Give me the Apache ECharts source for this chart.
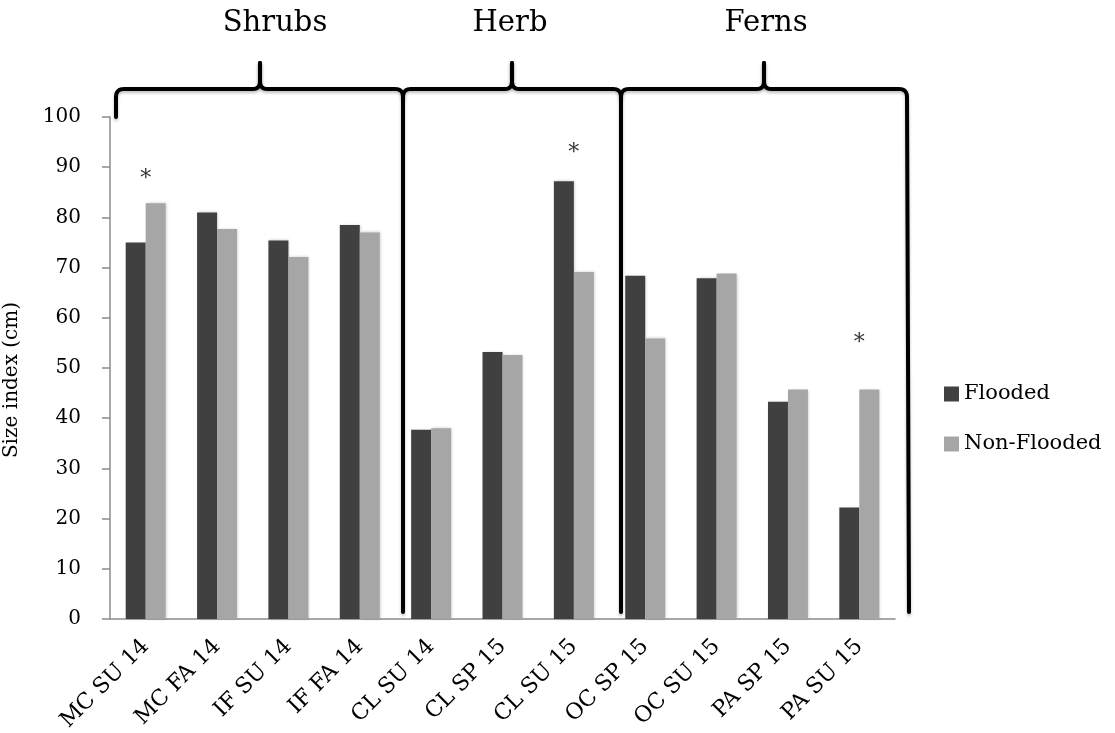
<!DOCTYPE html>
<html>
<head>
<meta charset="utf-8">
<script src="https://cdn.jsdelivr.net/npm/echarts@6/dist/echarts.min.js"></script>
<style>
  html, body { margin: 0; padding: 0; background: #fff; }
  #chart { width: 1115px; height: 733px; }
</style>
</head>
<body>
<div id="chart"></div>
<script>
// categories and values
const categories = ['MC SU 14', 'MC FA 14', 'IF SU 14', 'IF FA 14', 'CL SU 14', 'CL SP 15',
                    'CL SU 15', 'OC SP 15', 'OC SU 15', 'PA SP 15', 'PA SU 15'];
const flooded    = [75.0, 81.0, 75.4, 78.5, 37.7, 53.2, 87.2, 68.4, 67.9, 43.3, 22.2];
const nonFlooded = [82.8, 77.7, 72.1, 77.0, 38.0, 52.6, 69.1, 55.9, 68.8, 45.7, 45.7];
// significance stars: [category, height]
const sigMarks = [['MC SU 14', 87.5], ['CL SU 15', 92.7], ['PA SU 15', 54.9]];
const groupNames = ['Shrubs', 'Herb', 'Ferns'];

const serif = 'DejaVu Serif';
const chart = echarts.init(document.getElementById('chart'));

// --- curly braces over the groups (annotation shapes, pixel space) ---
function quad(p0, c, p1) {
  let pts = [];
  for (let i = 1; i <= 8; i++) {
    let t = i / 8, u = 1 - t;
    pts.push([u * u * p0[0] + 2 * u * t * c[0] + t * t * p1[0],
              u * u * p0[1] + 2 * u * t * c[1] + t * t * p1[1]]);
  }
  return pts;
}
// one brace: left end x0 (drops to yLeft), tip at xm, right end x1 then line down to yRight
function brace(x0, xm, x1, yLeft, yRight, xBottom) {
  const y = 89, r = 8, top = 63;
  let left = [[x0, yLeft], [x0, y + r]]
    .concat(quad([x0, y + r], [x0, y], [x0 + r, y]))
    .concat([[xm - 7, y]])
    .concat(quad([xm - 7, y], [xm, y], [xm, y - 8]))
    .concat([[xm, top]]);
  let right = [[xm, top], [xm, y - 8]]
    .concat(quad([xm, y - 8], [xm, y], [xm + 7, y]))
    .concat([[x1 - r, y]])
    .concat(quad([x1 - r, y], [x1, y], [x1, y + r]))
    .concat([[xBottom, yRight]]);
  return [left, right];
}
const braceStyle = { fill: null, stroke: '#000', lineWidth: 4, lineCap: 'round', lineJoin: 'round',
                     shadowBlur: 3, shadowColor: 'rgba(0,0,0,0.25)', shadowOffsetY: 2 };
const braceLines = []
  .concat(brace(116, 260, 403, 117, 612, 403))
  .concat(brace(403, 512, 621, 97, 612, 621))
  .concat(brace(621, 764, 907, 97, 612, 909));
const groupX = [275, 510, 766];

let graphics = braceLines.map(pts => ({
  type: 'polyline', z: 100, silent: true,
  shape: { points: pts },
  style: braceStyle
}));
groupNames.forEach((t, i) => {
  graphics.push({
    type: 'text', x: groupX[i], y: 23, z: 100, silent: true,
    style: { text: t, font: '29px "' + serif + '"', fill: '#000', align: 'center', verticalAlign: 'middle' }
  });
});

const option = {
  animation: false,
  backgroundColor: '#fff',
  color: ['#404040', '#a6a6a6'],
  grid: { left: 110, right: 220, top: 117, bottom: 114, containLabel: false, outerBoundsMode: 'none' },
  legend: {
    orient: 'vertical', left: 944, top: 383, padding: 0,
    itemWidth: 15, itemHeight: 15, itemGap: 28,
    icon: 'rect',
    data: ['Flooded', 'Non-Flooded'],
    textStyle: { fontFamily: serif, fontSize: 21, lineHeight: 22, color: '#000' }
  },
  xAxis: {
    type: 'category',
    data: categories,
    axisLine: { lineStyle: { color: '#8c8c8c', width: 1.5 } },
    axisTick: { length: 8, lineStyle: { color: '#8c8c8c', width: 1.5 } },
    axisLabel: { rotate: 45, interval: 0, margin: 24, fontFamily: serif, fontSize: 22, color: '#000' }
  },
  yAxis: {
    type: 'value', min: 0, max: 100, interval: 10,
    name: 'Size index (cm)', nameLocation: 'middle', nameGap: 88,
    nameTextStyle: { fontFamily: serif, fontSize: 20, color: '#000', padding: [0, 24, 0, 0] },
    axisLine: { show: true, lineStyle: { color: '#8c8c8c', width: 1.5 } },
    axisTick: { show: true, length: 8, lineStyle: { color: '#8c8c8c', width: 1.5 } },
    axisLabel: { margin: 29, fontFamily: serif, fontSize: 20, color: '#000' },
    splitLine: { show: false }
  },
  series: [
    {
      name: 'Flooded', type: 'bar', data: flooded,
      barGap: '0%', barCategoryGap: '44%',
      itemStyle: { shadowBlur: 3, shadowColor: 'rgba(0,0,0,0.2)', shadowOffsetX: 1 }
    },
    {
      name: 'Non-Flooded', type: 'bar', data: nonFlooded,
      barGap: '0%', barCategoryGap: '44%',
      itemStyle: { shadowBlur: 3, shadowColor: 'rgba(0,0,0,0.2)', shadowOffsetX: 1 }
    },
    {
      name: 'sig', type: 'scatter', data: sigMarks, symbolSize: 0, silent: true,
      label: { show: true, position: 'inside', formatter: '*', fontFamily: serif, fontSize: 22, color: '#000' }
    }
  ],
  graphic: graphics
};
chart.setOption(option);
</script>
</body>
</html>
